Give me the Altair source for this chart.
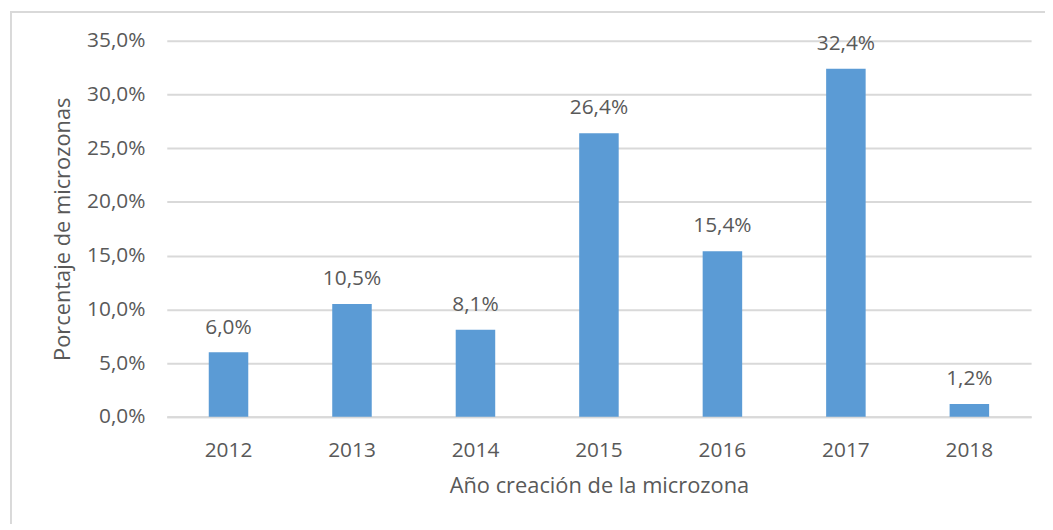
import altair as alt
import pandas as pd

years = ["2012", "2013", "2014", "2015", "2016", "2017", "2018"]
values = [6.0, 10.5, 8.1, 26.4, 15.4, 32.4, 1.2]

df = pd.DataFrame({"year": years, "value": values})

FONT = "Open Sans"
GRAY = "#595959"
fmt = "replace(format(datum.value, '.1f'), '.', ',') + '%'"

x = alt.X("year:N", sort=years, title="Año creación de la microzona",
          scale=alt.Scale(paddingInner=0.68, paddingOuter=0.34),
          axis=alt.Axis(labelAngle=0, labelFontSize=21, labelColor=GRAY, labelFont=FONT,
                        titleFontSize=22, titleColor=GRAY, titleFont=FONT, titleFontWeight="normal",
                        ticks=False, labelPadding=23, titlePadding=15,
                        domainColor="#D9D9D9", domainWidth=2))
y = alt.Y("value:Q", title="Porcentaje de microzonas",
          scale=alt.Scale(domain=[0, 35], nice=False),
          axis=alt.Axis(values=[0, 5, 10, 15, 20, 25, 30, 35], labelExpr=fmt,
                        labelFontSize=21, labelColor=GRAY, labelFont=FONT,
                        titleFontSize=22, titleColor=GRAY, titleFont=FONT, titleFontWeight="normal",
                        ticks=False, domain=False, labelPadding=22, titlePadding=12,
                        gridColor="#D9D9D9", gridWidth=2))

base = alt.Chart(df)
bars = base.mark_bar(color="#5B9BD5").encode(x=x, y=y)
labels = base.mark_text(baseline="middle", dy=-25, fontSize=21, color=GRAY, font=FONT).encode(
    x=alt.X("year:N", sort=years), y="value:Q",
    text=alt.Text("label:N")).transform_calculate(label=fmt)

border = alt.Chart(pd.DataFrame({"a": [0]})).mark_rect(
    fill=None, stroke="#D9D9D9", strokeWidth=2, clip=False).encode(
    x=alt.value(-157), x2=alt.value(900), y=alt.value(-29), y2=alt.value(560))

chart = alt.layer(border, bars, labels).properties(
    width=871, height=379,
    autosize=alt.AutoSizeParams(type="none"),
    padding={"left": 160, "top": 31, "right": 14, "bottom": 106},
).configure_view(stroke=None)

chart.save("out.html", embed_options={"renderer": "svg", "actions": False})
